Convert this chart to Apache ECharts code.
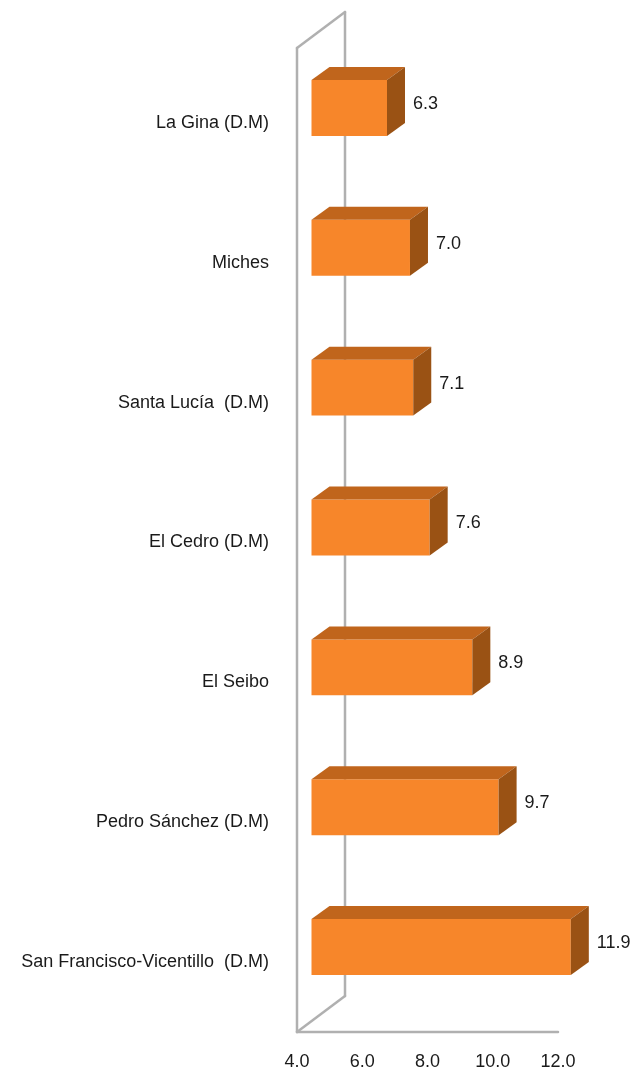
<!DOCTYPE html>
<html>
<head>
<meta charset="utf-8">
<script src="https://cdn.jsdelivr.net/npm/echarts@6/dist/echarts.min.js"></script>
<style>
html,body{margin:0;padding:0;background:#fff;}
#c{width:641px;height:1071px;}
</style>
</head>
<body>
<div id="c"></div>
<script>
var categories = ['La Gina (D.M)', 'Miches', 'Santa Lucía  (D.M)', 'El Cedro (D.M)', 'El Seibo', 'Pedro Sánchez (D.M)', 'San Francisco-Vicentillo  (D.M)'];
var values = [6.3, 7.0, 7.1, 7.6, 8.9, 9.7, 11.9];
var xTicks = [4, 6, 8, 10, 12];

var FONT = '"Liberation Sans", Arial, sans-serif';
var chart = echarts.init(document.getElementById('c'));

var barData = values.map(function (v, i) { return [v, i]; });

function renderFrame(params, api) {
  var cs = params.coordSys;
  var x = cs.x, y = cs.y, w = cs.width, h = cs.height;
  var dx = 48, dy = -36;
  var st = { stroke: '#b0b0b0', lineWidth: 2.5, lineCap: 'round' };
  var lines = [
    [x, y - 5, x, y + h],
    [x + dx, y - 5 + dy, x + dx, y + h + dy],
    [x, y - 5, x + dx, y - 5 + dy],
    [x, y + h, x + dx, y + h + dy],
    [x, y + h, x + w, y + h]
  ];
  return {
    type: 'group',
    children: lines.map(function (l) {
      return { type: 'line', shape: { x1: l[0], y1: l[1], x2: l[2], y2: l[3] }, style: st };
    })
  };
}

function renderBar(params, api) {
  var v = api.value(0), idx = api.value(1);
  var pStart = api.coord([xTicks[0], idx]);
  var pEnd = api.coord([v, idx]);
  var band = api.size([0, 1])[1];
  var hgt = band * 0.4;
  var shiftX = 14.5, shiftY = -15;
  var x0 = pStart[0] + shiftX;
  var x1 = pEnd[0] + shiftX + (v - xTicks[0]) * 0.2;
  var cy = pStart[1] + shiftY;
  var yT = cy - hgt / 2, yB = cy + hgt / 2;
  var ddx = 18, ddy = -13;
  return {
    type: 'group',
    children: [
      { type: 'rect', shape: { x: x0, y: yT, width: x1 - x0, height: hgt },
        style: { fill: '#f7862a' } },
      { type: 'polygon', shape: { points: [[x0, yT], [x1, yT], [x1 + ddx, yT + ddy], [x0 + ddx, yT + ddy]] },
        style: { fill: '#c0651c' } },
      { type: 'polygon', shape: { points: [[x1, yT], [x1 + ddx, yT + ddy], [x1 + ddx, yB + ddy], [x1, yB]] },
        style: { fill: '#9a5214' } },
      { type: 'text', x: x1 + ddx + 8, y: cy - 4,
        style: { text: v.toFixed(1), fill: '#1a1a1a', font: '18px ' + FONT, textVerticalAlign: 'middle', textAlign: 'left' } }
    ]
  };
}

chart.setOption({
  animation: false,
  backgroundColor: '#ffffff',
  grid: { left: 297, right: 83, top: 53, height: 980 },
  xAxis: {
    type: 'value', min: 4, max: 12, interval: 2,
    axisLine: { show: false }, axisTick: { show: false }, splitLine: { show: false },
    axisLabel: { margin: 21, color: '#1a1a1a', fontSize: 18, fontFamily: FONT,
      formatter: function (v) { return v.toFixed(1); } }
  },
  yAxis: {
    type: 'category', data: categories, inverse: true,
    axisLine: { show: false }, axisTick: { show: false }, splitLine: { show: false },
    axisLabel: { margin: 28, color: '#1a1a1a', fontSize: 18, fontFamily: FONT }
  },
  series: [
    { type: 'custom', name: 'frame', clip: false, data: [[4, 0]], renderItem: renderFrame, z: 1, silent: true },
    { type: 'custom', name: 'bars', clip: false, data: barData, encode: { x: 0, y: 1 }, renderItem: renderBar, z: 2 }
  ]
});
</script>
</body>
</html>
